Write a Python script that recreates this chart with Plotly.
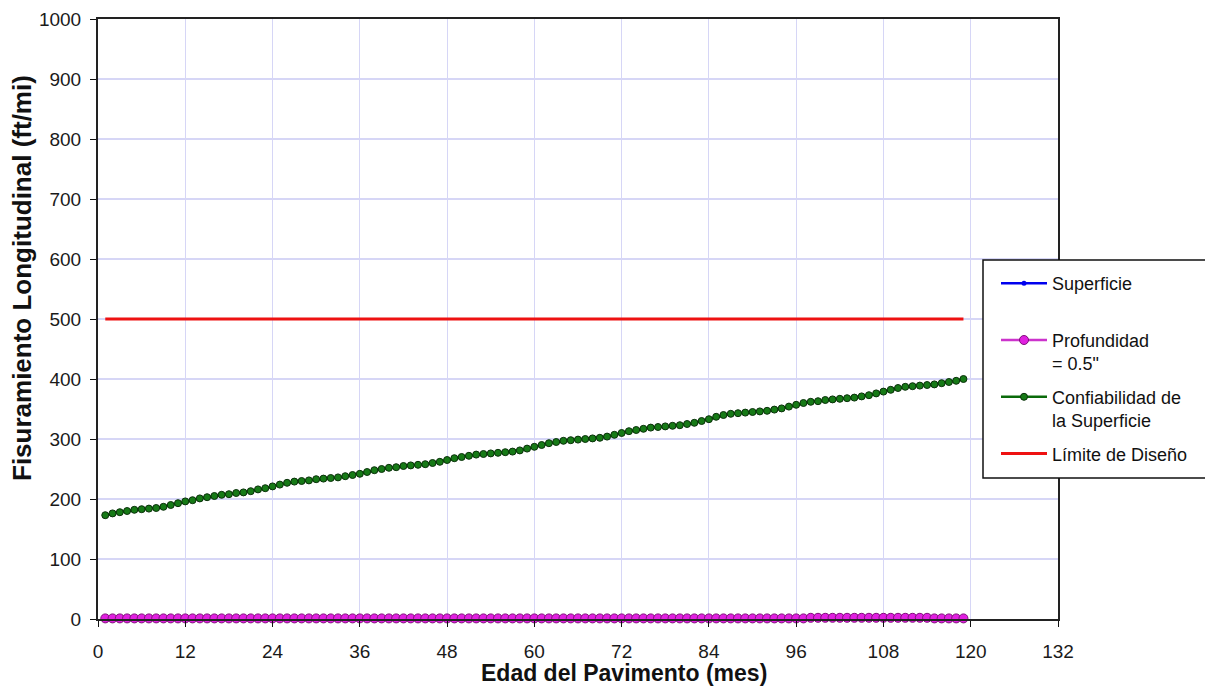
import plotly.graph_objects as go

months = list(range(1, 120))

superficie = [
    0, 0, 0, 0, 0, 0, 0, 0, 0, 0, 0, 0, 0, 0, 0, 0, 0, 0, 0, 0,
    0, 0, 0, 0, 0, 0, 0, 0, 0, 0, 0, 0, 0, 0, 0, 0, 0, 0, 0, 0,
    0, 0, 0, 0, 0, 0, 0, 0, 0, 0, 0, 0, 0, 0, 0, 0, 0, 0, 0, 0,
    0, 0, 0, 0, 0, 0, 0, 0, 0, 0, 0, 0, 0, 0, 0, 0, 0, 0, 0, 0,
    0, 0, 0, 0, 0, 0, 0, 0, 0, 0, 0, 0, 0, 0, 0, 0, 0, 0, 0, 0,
    0, 0, 0, 0, 0, 0, 0, 0, 0, 0, 0, 0, 0, 0, 0, 0, 0, 0, 0,
]

profundidad = [
    1, 1, 1, 1, 1, 1, 1, 1, 1, 1, 1, 1, 1, 1, 1, 1, 1, 1, 1, 1,
    1, 1, 1, 1, 1, 1, 1, 1, 1, 1, 1, 1, 1, 1, 1, 1, 1, 1, 1, 1,
    1, 1, 1, 1, 1, 1, 1, 1, 1, 1, 1, 1, 1, 1, 1, 1, 1, 1, 1, 1,
    1, 1, 1, 1, 1, 1, 1, 1, 1, 1, 1, 1, 1, 1, 1, 1, 1, 1, 1, 1,
    1, 1, 1, 1, 1, 1, 1, 1, 1, 1, 1, 1, 1, 1, 1, 1, 1, 2, 2, 2,
    2, 2, 2, 2, 2, 2, 2, 2, 2, 2, 2, 2, 2, 2, 1, 1, 1, 1, 1,
]

confiabilidad = [
    173, 176, 178, 180, 182, 183, 184, 185, 187, 190,
    193, 196, 198, 201, 203, 205, 207, 208, 210, 211,
    213, 216, 218, 221, 224, 227, 229, 230, 231, 233,
    234, 235, 236, 238, 240, 242, 245, 248, 250, 252,
    253, 255, 256, 257, 258, 260, 262, 265, 268, 270,
    272, 274, 275, 276, 277, 278, 279, 281, 284, 287,
    290, 293, 295, 297, 298, 299, 300, 301, 302, 304,
    307, 310, 313, 315, 317, 319, 320, 321, 322, 323,
    325, 327, 330, 333, 337, 340, 342, 343, 344, 345,
    346, 347, 349, 351, 354, 357, 360, 362, 363, 365,
    366, 367, 368, 369, 371, 373, 376, 379, 382, 385,
    387, 388, 389, 390, 391, 393, 395, 397, 400,
]

limite_x = [1, 119]
limite_y = [500, 500]

x_ticks = [0, 12, 24, 36, 48, 60, 72, 84, 96, 108, 120, 132]
y_ticks = [0, 100, 200, 300, 400, 500, 600, 700, 800, 900, 1000]

FONT = "Liberation Sans, Arial, sans-serif"
NB = "\u00a0"

fig = go.Figure()
fig.add_trace(go.Scatter(
    x=months, y=superficie, name="Superficie<br>" + NB, mode="lines+markers",
    line=dict(color="#0000ee", width=2.5),
    marker=dict(size=5, color="#0000ee"), cliponaxis=False, legendgroup="a"))
fig.add_trace(go.Scatter(
    x=months, y=profundidad, name="Profundidad<br>= 0.5\"", mode="lines+markers",
    line=dict(color="#cc33cc", width=2.5),
    marker=dict(size=9, color="#e020e0", line=dict(color="#80107a", width=1)),
    cliponaxis=False, legendgroup="b"))
fig.add_trace(go.Scatter(
    x=months, y=confiabilidad, name="Confiabilidad de<br>la Superficie", mode="lines+markers",
    line=dict(color="#0a6a0a", width=2.5),
    marker=dict(size=7, color="#167a16", line=dict(color="#0a300a", width=1)),
    cliponaxis=False, legendgroup="c"))
fig.add_trace(go.Scatter(
    x=limite_x, y=limite_y, name="Límite de Diseño", mode="lines",
    line=dict(color="#ee1111", width=3), legendgroup="d"))

px = lambda v: (v - 98) / 960
py = lambda v: (619 - v) / 600

fig.update_layout(
    width=1205, height=691,
    margin=dict(l=98, r=147, t=19, b=72, autoexpand=False),
    paper_bgcolor="white", plot_bgcolor="white",
    font=dict(family=FONT, size=19, color="#1a1a1a"),
    xaxis=dict(
        range=[0, 132], tickvals=x_ticks, ticks="outside", ticklen=6,
        tickcolor="#111", showline=True, linecolor="#222", linewidth=2,
        mirror=True, showgrid=True, gridcolor="#d6d6f6", gridwidth=1,
        zeroline=False, tickfont=dict(size=19), ticklabelstandoff=8),
    xaxis2=dict(
        matches="x", overlaying="x", range=[0, 132], tickvals=[24, 48, 72, 96, 120],
        showticklabels=False, ticks="", showgrid=True, gridcolor="#cfcff8",
        gridwidth=2.5, showline=False, zeroline=False),
    yaxis=dict(
        range=[0, 1000], tickvals=y_ticks, ticks="outside", ticklen=6,
        tickcolor="#111", showline=True, linecolor="#222", linewidth=2,
        mirror=True, showgrid=True, gridcolor="#d6d6f6", gridwidth=1.5,
        zeroline=False, tickfont=dict(size=19), ticklabelstandoff=5),
    showlegend=True,
    legend=dict(
        x=px(996), xanchor="left", y=py(265), yanchor="top",
        bgcolor="rgba(0,0,0,0)", borderwidth=0,
        font=dict(family=FONT, size=18, color="#111"),
        traceorder="grouped", tracegroupgap=7, valign="top",
        itemwidth=46),
    shapes=[
        dict(type="rect", xref="paper", yref="paper",
             x0=px(983), x1=px(1215), y0=py(478), y1=py(260),
             fillcolor="white", line=dict(color="#111", width=1.5), layer="above"),
    ],
    annotations=[
        dict(text="<b>Fisuramiento Longitudinal (ft/mi)</b>", xref="paper", yref="paper",
             x=px(22), y=py(278), textangle=-90, showarrow=False,
             font=dict(family=FONT, size=26, color="#111"), xanchor="center", yanchor="middle"),
        dict(text="<b>Edad del Pavimento (mes)</b>", xref="paper", yref="paper",
             x=px(624), y=py(673), showarrow=False,
             font=dict(family=FONT, size=23, color="#111"), xanchor="center", yanchor="middle"),
    ],
)

fig.write_html("out.html")
